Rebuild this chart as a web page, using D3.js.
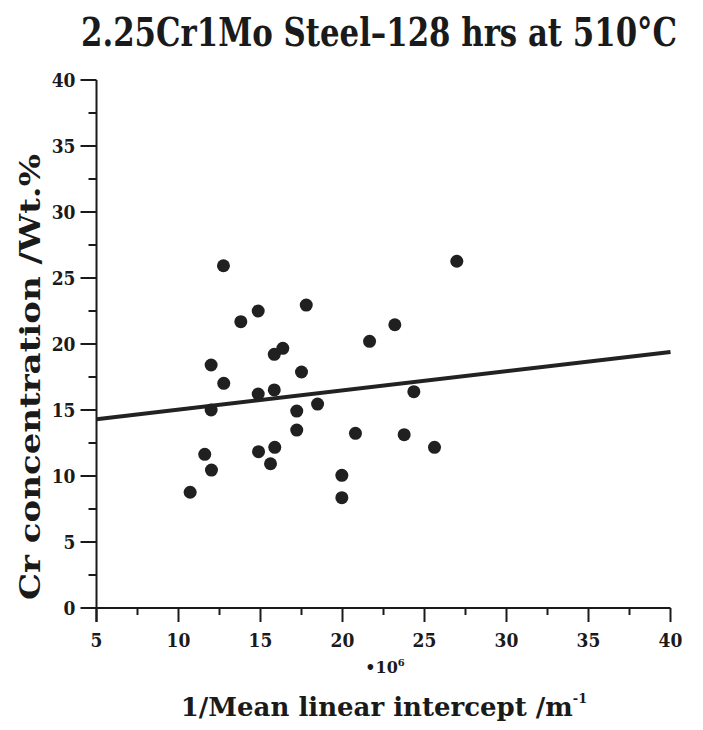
<!DOCTYPE html>
<html>
<head>
<meta charset="utf-8">
<script src="https://cdn.jsdelivr.net/npm/d3@7"></script>
<style>
  html, body { margin: 0; padding: 0; background: #fff; }
  svg text { font-family: "DejaVu Serif", serif; font-weight: bold; fill: #1a1a1a; }
</style>
</head>
<body>
<svg id="chart" width="703" height="730"></svg>
<script>
// Mean linear intercept reciprocal (x 10^6 m^-1)
const interceptInv = [10.71, 12.01, 11.60, 11.99, 11.99, 12.76, 12.74, 13.80, 14.86, 14.86,
                      14.88, 15.61, 15.87, 15.84, 15.84, 16.36, 17.50, 17.79, 17.21, 17.21,
                      18.48, 19.96, 19.96, 20.79, 21.65, 23.19, 23.76, 24.35, 25.61, 26.97];
// Cr concentration (wt.%)
const crConc = [8.77, 10.45, 11.64, 15.0, 18.41, 17.02, 25.93, 21.69, 22.5, 16.21,
                11.84, 10.93, 12.17, 16.52, 19.22, 19.67, 17.88, 22.95, 14.92, 13.48,
                15.45, 10.05, 8.36, 13.23, 20.20, 21.46, 13.13, 16.39, 12.17, 26.27];
// Fitted trend line end points
const fitX = [5, 40];
const fitY = [14.3, 19.4];

const xTicks = [5, 10, 15, 20, 25, 30, 35, 40];
const yTicks = [0, 5, 10, 15, 20, 25, 30, 35, 40];
const xMinor = [7.5, 12.5, 17.5, 22.5, 27.5, 32.5, 37.5];
const yMinor = [2.5, 7.5, 12.5, 17.5, 22.5, 27.5, 32.5, 37.5];

const svg = d3.select("#chart");
const x = d3.scaleLinear().domain([5, 40]).range([96.5, 670.5]);
const y = d3.scaleLinear().domain([0, 40]).range([608, 80]);
const ink = "#1a1a1a";

// Title (horizontally condensed)
svg.append("text").attr("transform", "translate(379,46) scale(0.79,1)")
  .attr("text-anchor", "middle").attr("font-size", 39)
  .text("2.25Cr1Mo Steel\u2013128 hrs at 510\u00B0C");

// Y axis
const yAxis = svg.append("g").attr("transform", `translate(${x(5)},0)`);
yAxis.append("line").attr("x1", 0).attr("x2", 0).attr("y1", y(40)).attr("y2", y(0) + 14)
  .attr("stroke", ink).attr("stroke-width", 2);
yAxis.selectAll("line.maj").data(yTicks).join("line").attr("class", "maj")
  .attr("x1", -16).attr("x2", 0).attr("y1", d => y(d)).attr("y2", d => y(d))
  .attr("stroke", ink).attr("stroke-width", 2);
yAxis.selectAll("line.min").data(yMinor).join("line").attr("class", "min")
  .attr("x1", -8).attr("x2", 0).attr("y1", d => y(d)).attr("y2", d => y(d))
  .attr("stroke", ink).attr("stroke-width", 2);
yAxis.selectAll("text").data(yTicks).join("text")
  .attr("transform", d => `translate(-21,${y(d) + 7}) scale(0.9,1)`)
  .attr("text-anchor", "end").attr("font-size", 19).text(d => d);

// X axis
const xAxis = svg.append("g").attr("transform", `translate(0,${y(0)})`);
xAxis.append("line").attr("x1", x(5)).attr("x2", x(40)).attr("y1", 0).attr("y2", 0)
  .attr("stroke", ink).attr("stroke-width", 2);
xAxis.selectAll("line.maj").data(xTicks).join("line").attr("class", "maj")
  .attr("x1", d => x(d)).attr("x2", d => x(d)).attr("y1", 0).attr("y2", 14)
  .attr("stroke", ink).attr("stroke-width", 2);
xAxis.selectAll("line.min").data(xMinor).join("line").attr("class", "min")
  .attr("x1", d => x(d)).attr("x2", d => x(d)).attr("y1", 0).attr("y2", 7)
  .attr("stroke", ink).attr("stroke-width", 2);
xAxis.selectAll("text").data(xTicks).join("text")
  .attr("transform", d => `translate(${x(d)},39) scale(0.9,1)`)
  .attr("text-anchor", "middle").attr("font-size", 19).text(d => d);

// Axis titles
const mult = svg.append("text").attr("x", 385).attr("y", 673)
  .attr("text-anchor", "middle").attr("font-size", 16);
mult.append("tspan").text("\u202210");
mult.append("tspan").attr("font-size", 10).attr("dy", -7).text("6");

const xt = svg.append("text").attr("x", 384).attr("y", 716).attr("text-anchor", "middle")
  .attr("font-size", 26);
xt.append("tspan").text("1/Mean linear intercept /m");
xt.append("tspan").attr("font-size", 13).attr("dy", -13).text("-1");

svg.append("text").attr("transform", "translate(40,377) rotate(-90)")
  .attr("text-anchor", "middle").attr("font-size", 27)
  .attr("textLength", 446).attr("lengthAdjust", "spacingAndGlyphs")
  .text("Cr concentration /Wt.%");

// Trend line
svg.append("line")
  .attr("x1", x(fitX[0])).attr("y1", y(fitY[0]))
  .attr("x2", x(fitX[1])).attr("y2", y(fitY[1]))
  .attr("stroke", "#222").attr("stroke-width", 4);

// Data points
svg.append("g").selectAll("circle").data(d3.range(interceptInv.length)).join("circle")
  .attr("cx", i => x(interceptInv[i])).attr("cy", i => y(crConc[i]))
  .attr("r", 6.5).attr("fill", "#202020");
</script>
</body>
</html>
